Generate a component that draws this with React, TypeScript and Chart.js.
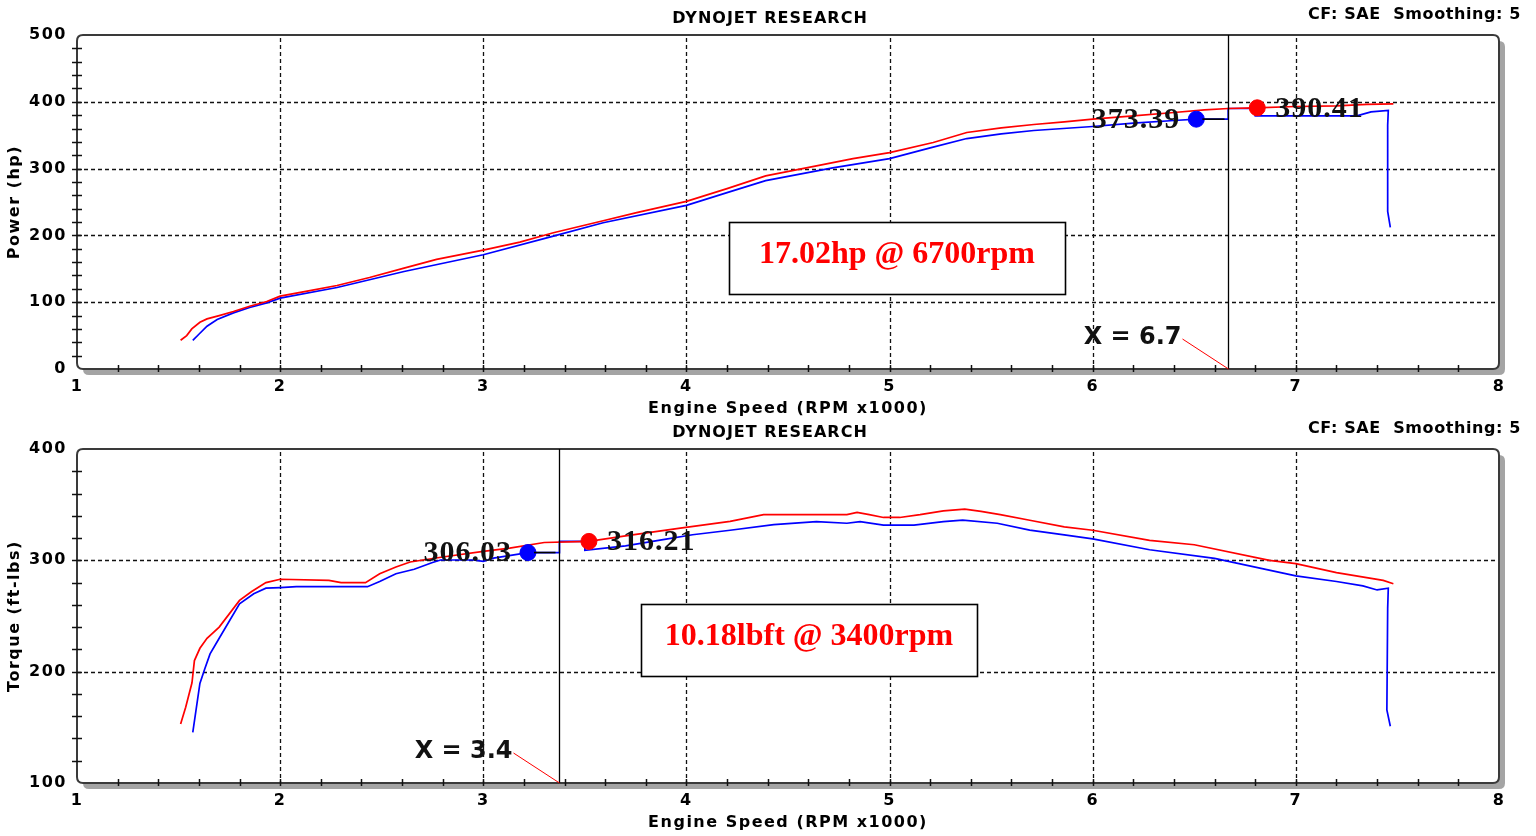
import React, { useEffect, useRef } from "react";
import { Chart, registerables } from "chart.js";

Chart.register(...registerables);

// ---------------- data ----------------
const rpmTicks = [1, 2, 3, 4, 5, 6, 7, 8];
const powerTicks = [0, 100, 200, 300, 400, 500];
const torqueTicks = [100, 200, 300, 400];

const powerRedRpm = [1.51, 1.54, 1.565, 1.605, 1.64, 1.7, 1.77, 1.85, 1.934, 2.0, 2.14, 2.28, 2.44, 2.61, 2.77, 3.0, 3.18, 3.345, 3.59, 3.755, 4.0, 4.2, 4.39, 4.64, 4.82, 5.0, 5.215, 5.38, 5.55, 5.71, 5.86, 6.0, 6.2, 6.4, 6.55, 6.667, 6.8, 7.0, 7.2, 7.35, 7.48];
const powerRedHp = [43, 50, 60, 70, 75, 80, 86, 94, 101, 109, 117, 125, 137, 151, 164, 178, 190, 204, 222, 234, 251, 270, 289, 304, 315, 324, 339, 354, 361, 366, 370, 374, 379, 384, 388, 390, 391, 393, 394, 396, 397];

const powerBlueRpm = [1.57, 1.6, 1.64, 1.69, 1.77, 1.85, 1.934, 2.0, 2.28, 2.61, 3.0, 3.345, 3.59, 4.0, 4.2, 4.39, 4.72, 5.0, 5.2, 5.38, 5.55, 5.71, 6.0, 6.2, 6.4, 6.51, 6.667, 6.667, 6.79, 6.8, 7.3, 7.37, 7.455, 7.452, 7.452, 7.465];
const powerBlueHp = [43, 52, 64, 74, 84, 92, 99, 106, 122, 146, 171, 199, 219, 245, 264, 282, 301, 315, 331, 345, 352, 357, 363, 368, 372, 374, 374, 390, 390, 379, 379, 385, 387, 365, 236, 212];

const torqueRedRpm = [1.51, 1.535, 1.566, 1.578, 1.605, 1.64, 1.7, 1.8, 1.86, 1.93, 2.0, 2.24, 2.3, 2.42, 2.49, 2.57, 2.64, 2.8, 3.0, 3.13, 3.3, 3.52, 3.7, 3.97, 4.215, 4.38, 4.79, 4.84, 4.9, 4.97, 5.05, 5.15, 5.265, 5.37, 5.45, 5.545, 5.69, 5.86, 6.0, 6.28, 6.5, 6.87, 7.0, 7.2, 7.43, 7.48];
const torqueRedLbft = [153, 168, 190, 210, 221, 230, 240, 264, 272, 280, 283, 282, 280, 280, 288, 294, 298.5, 303, 308, 311, 316, 317, 322, 329, 335, 341, 341, 343, 341, 338.5, 338.5, 341, 344.5, 346, 344, 341, 336, 330, 327, 318, 314, 300, 297, 289, 282, 279];

const torqueBlueRpm = [1.57, 1.605, 1.63, 1.655, 1.7, 1.8, 1.87, 1.93, 2.0, 2.08, 2.43, 2.49, 2.57, 2.66, 2.75, 2.79, 2.95, 3.0, 3.05, 3.22, 3.375, 3.375, 3.5, 3.5, 3.7, 3.9, 4.03, 4.215, 4.43, 4.64, 4.79, 4.855, 4.97, 5.12, 5.265, 5.36, 5.53, 5.69, 5.86, 6.0, 6.28, 6.6, 7.0, 7.2, 7.33, 7.4, 7.455, 7.452, 7.448, 7.465];
const torqueBlueLbft = [145.5, 189.5, 203, 216, 230, 261, 270, 275, 275.5, 276.3, 276.3, 281, 288, 292, 298, 300.3, 300.3, 299, 302, 307, 307, 317, 317, 309, 313, 319, 323, 327, 332, 334.7, 333.3, 334.7, 331.7, 331.7, 334.7, 336.2, 333.3, 327.2, 322.8, 319.2, 309.5, 301.7, 286, 281, 277, 273.4, 275, 257, 165.6, 151];

// peak markers: [blue, red]
const powerPeakRpm = [6.51, 6.81];
const powerPeakHp = [374, 391];
const powerPeakLabels = ["373.39", "390.41"];
const torquePeakRpm = [3.22, 3.52];
const torquePeakLbft = [307, 317];
const torquePeakLabels = ["306.03", "316.21"];

const powerCursorRpm = 6.667;
const powerCursorText = "X = 6.7";
const torqueCursorRpm = 3.375;
const torqueCursorText = "X = 3.4";

const powerDiffText = "17.02hp @ 6700rpm";
const torqueDiffText = "10.18lbft @ 3400rpm";

const chartTitle = "DYNOJET RESEARCH";
const chartSubInfo = "CF: SAE  Smoothing: 5";
const xAxisTitle = "Engine Speed (RPM x1000)";

// ---------------- chart ----------------
type Pt = { x: number; y: number };
type Panel = {
  yTicks: number[];
  yMinor: number;
  yTitle: string;
  red: Pt[];
  blue: Pt[];
  peakX: number[];
  peakY: number[];
  peakLabels: string[];
  cursorX: number;
  cursorText: string;
  diffText: string;
  boxRect: [number, number, number, number];
  padTop: number;
  xAxisH: number;
  xTitlePad: number;
  titleY: number;
  cfY: number;
};

const zip = (xs: number[], ys: number[]): Pt[] => xs.map((x, i) => ({ x, y: ys[i] }));

function rr(ctx: CanvasRenderingContext2D, x: number, y: number, w: number, h: number, r: number) {
  ctx.beginPath();
  ctx.moveTo(x + r, y);
  ctx.lineTo(x + w - r, y);
  ctx.quadraticCurveTo(x + w, y, x + w, y + r);
  ctx.lineTo(x + w, y + h - r);
  ctx.quadraticCurveTo(x + w, y + h, x + w - r, y + h);
  ctx.lineTo(x + r, y + h);
  ctx.quadraticCurveTo(x, y + h, x, y + h - r);
  ctx.lineTo(x, y + r);
  ctx.quadraticCurveTo(x, y, x + r, y);
  ctx.closePath();
}

function seg(ctx: CanvasRenderingContext2D, x1: number, y1: number, x2: number, y2: number) {
  ctx.beginPath();
  ctx.moveTo(x1, y1);
  ctx.lineTo(x2, y2);
  ctx.stroke();
}

function makePlugin(p: Panel) {
  return {
    id: "dyno",
    beforeDraw(chart: any) {
      const ctx = chart.ctx as CanvasRenderingContext2D;
      const { left, top, right, bottom } = chart.chartArea;
      const xs = chart.scales.x;
      const ys = chart.scales.y;
      ctx.save();
      ctx.fillStyle = "#fff";
      ctx.fillRect(0, 0, chart.width, chart.height);
      ctx.fillStyle = "#a4a4a4";
      rr(ctx, left + 6, top + 6, right - left, bottom - top, 6);
      ctx.fill();
      ctx.fillStyle = "#fff";
      rr(ctx, left, top, right - left, bottom - top, 6);
      ctx.fill();
      ctx.strokeStyle = "#111";
      ctx.lineWidth = 1.3;
      ctx.setLineDash([4, 3]);
      rpmTicks.slice(1, -1).forEach((v) => {
        const px = Math.round(xs.getPixelForValue(v)) + 0.5;
        seg(ctx, px, top + 3, px, bottom);
      });
      p.yTicks.slice(1, -1).forEach((v) => {
        const py = Math.round(ys.getPixelForValue(v)) + 0.5;
        seg(ctx, left, py, right - 2, py);
      });
      ctx.restore();
      (ctx as any).letterSpacing = "1.5px";
    },
    afterDatasetsDraw(chart: any) {
      const ctx = chart.ctx as CanvasRenderingContext2D;
      const { left, top, right, bottom } = chart.chartArea;
      const xs = chart.scales.x;
      const ys = chart.scales.y;
      ctx.save();
      ctx.setLineDash([]);
      // frame
      ctx.strokeStyle = "#3a3a3a";
      ctx.lineWidth = 2;
      rr(ctx, left, top, right - left, bottom - top, 6);
      ctx.stroke();
      // minor ticks
      ctx.strokeStyle = "#111";
      ctx.lineWidth = 1.5;
      const x0 = rpmTicks[0];
      const x1 = rpmTicks[rpmTicks.length - 1];
      for (let i = 1; i < (x1 - x0) * 5; i++) {
        const px = Math.round(xs.getPixelForValue(x0 + i * 0.2)) + 0.5;
        seg(ctx, px, bottom - 4, px, bottom + 3);
      }
      const y0 = p.yTicks[0];
      const y1 = p.yTicks[p.yTicks.length - 1];
      for (let v = y0 + p.yMinor; v < y1 - 0.01; v += p.yMinor) {
        const py = Math.round(ys.getPixelForValue(v)) + 0.5;
        seg(ctx, left - 5, py, left + 5, py);
      }
      // cursor
      const cx = Math.round(xs.getPixelForValue(p.cursorX)) + 0.5;
      ctx.strokeStyle = "#000";
      ctx.lineWidth = 1.3;
      seg(ctx, cx, top, cx, bottom);
      // connector from blue peak to cursor
      const bx = xs.getPixelForValue(p.peakX[0]);
      const by = ys.getPixelForValue(p.peakY[0]);
      const rx = xs.getPixelForValue(p.peakX[1]);
      const ry = ys.getPixelForValue(p.peakY[1]);
      ctx.lineWidth = 1.6;
      seg(ctx, bx + 6, by, cx - 4, by);
      // peak labels
      (ctx as any).letterSpacing = "1px";
      ctx.font = 'bold 30px "Liberation Serif"';
      ctx.textBaseline = "middle";
      ctx.fillStyle = "#111";
      ctx.textAlign = "right";
      ctx.fillText(p.peakLabels[0], bx - 16, by + 1);
      ctx.textAlign = "left";
      ctx.fillText(p.peakLabels[1], rx + 18, ry + 1);
      // cursor value
      (ctx as any).letterSpacing = "0px";
      ctx.font = 'bold 24px "DejaVu Sans"';
      ctx.textAlign = "right";
      ctx.fillText(p.cursorText, cx - 47, bottom - 31);
      ctx.strokeStyle = "#ff0000";
      ctx.lineWidth = 1;
      seg(ctx, cx - 46, bottom - 30, cx, bottom);
      // difference box
      const [bx0, by0, bw, bh] = p.boxRect;
      ctx.fillStyle = "#fff";
      ctx.fillRect(bx0, by0, bw, bh);
      ctx.strokeStyle = "#000";
      ctx.lineWidth = 1.6;
      ctx.strokeRect(bx0 + 0.5, by0 + 0.5, bw, bh);
      ctx.font = 'bold 32px "Liberation Serif"';
      ctx.fillStyle = "#ff0000";
      ctx.textAlign = "center";
      ctx.fillText(p.diffText, bx0 + bw / 2, by0 + bh / 2 - 3);
      // titles
      (ctx as any).letterSpacing = "1px";
      ctx.font = 'bold 16px "DejaVu Sans"';
      ctx.fillStyle = "#000";
      ctx.textAlign = "center";
      ctx.fillText(chartTitle, 770, p.titleY);
      (ctx as any).letterSpacing = "0.6px";
      ctx.textAlign = "right";
      ctx.fillText(chartSubInfo, 1521, p.cfY);
      ctx.restore();
    },
  };
}

function buildChart(canvas: HTMLCanvasElement, p: Panel) {
  const tickFont = { family: "DejaVu Sans", weight: "bold" as const, size: 16 };
  return new Chart(canvas, {
    type: "line",
    data: {
      datasets: [
        {
          type: "scatter",
          data: [{ x: p.peakX[1], y: p.peakY[1] }],
          pointRadius: 8,
          pointBackgroundColor: "#ff0000",
          pointBorderColor: "#ff0000",
          showLine: false,
        } as any,
        {
          type: "scatter",
          data: [{ x: p.peakX[0], y: p.peakY[0] }],
          pointRadius: 8,
          pointBackgroundColor: "#0000ff",
          pointBorderColor: "#0000ff",
          showLine: false,
        } as any,
        {
          data: p.red,
          borderColor: "#ff0000",
          borderWidth: 1.7,
          pointRadius: 0,
          tension: 0,
          fill: false,
        },
        {
          data: p.blue,
          borderColor: "#0000ff",
          borderWidth: 1.7,
          pointRadius: 0,
          tension: 0,
          fill: false,
        },
      ],
    },
    options: {
      animation: false,
      responsive: false,
      devicePixelRatio: 1,
      parsing: false,
      layout: { padding: { left: 0, right: 37, top: p.padTop, bottom: 0 } },
      plugins: { legend: { display: false }, tooltip: { enabled: false }, title: { display: false } },
      scales: {
        x: {
          type: "linear",
          min: rpmTicks[0],
          max: rpmTicks[rpmTicks.length - 1],
          grid: { display: false, drawTicks: false },
          border: { display: false },
          ticks: { stepSize: 1, autoSkip: false, padding: 8, color: "#000", font: tickFont },
          title: {
            display: true,
            text: xAxisTitle,
            color: "#000",
            font: tickFont,
            padding: { top: 0, bottom: p.xTitlePad },
          },
          afterFit: (s: any) => {
            s.height = p.xAxisH;
          },
        },
        y: {
          type: "linear",
          min: p.yTicks[0],
          max: p.yTicks[p.yTicks.length - 1],
          grid: { display: false, drawTicks: false },
          border: { display: false },
          ticks: { stepSize: 100, padding: 10, color: "#000", font: tickFont },
          title: {
            display: true,
            text: p.yTitle,
            color: "#000",
            font: tickFont,
            padding: { top: 5, bottom: 0 },
          },
          afterFit: (s: any) => {
            s.width = 77;
          },
        },
      },
    } as any,
    plugins: [makePlugin(p)],
  });
}

const powerPanel: Panel = {
  yTicks: powerTicks,
  yMinor: 20,
  yTitle: "Power (hp)",
  red: zip(powerRedRpm, powerRedHp),
  blue: zip(powerBlueRpm, powerBlueHp),
  peakX: powerPeakRpm,
  peakY: powerPeakHp,
  peakLabels: powerPeakLabels,
  cursorX: powerCursorRpm,
  cursorText: powerCursorText,
  diffText: powerDiffText,
  boxRect: [729, 222, 336, 72],
  padTop: 35,
  xAxisH: 49,
  xTitlePad: 0,
  titleY: 19,
  cfY: 15,
};

const torquePanel: Panel = {
  yTicks: torqueTicks,
  yMinor: 20,
  yTitle: "Torque (ft-lbs)",
  red: zip(torqueRedRpm, torqueRedLbft),
  blue: zip(torqueBlueRpm, torqueBlueLbft),
  peakX: torquePeakRpm,
  peakY: torquePeakLbft,
  peakLabels: torquePeakLabels,
  cursorX: torqueCursorRpm,
  cursorText: torqueCursorText,
  diffText: torqueDiffText,
  boxRect: [641, 186, 336, 72],
  padTop: 31,
  xAxisH: 53,
  xTitlePad: 4,
  titleY: 15,
  cfY: 11,
};

function DynoChart({ panel, top }: { panel: Panel; top: number }) {
  const ref = useRef<HTMLCanvasElement | null>(null);
  useEffect(() => {
    if (!ref.current) return;
    const c = buildChart(ref.current, panel);
    return () => c.destroy();
  }, [panel]);
  return (
    <canvas
      ref={ref}
      width={1536}
      height={418}
      style={{ position: "absolute", left: 0, top, width: 1536, height: 418 }}
    />
  );
}

export default function App() {
  return (
    <div
      style={{
        position: "fixed",
        left: 0,
        top: 0,
        width: 1536,
        height: 836,
        background: "#fff",
        overflow: "hidden",
      }}
    >
      <DynoChart panel={powerPanel} top={0} />
      <DynoChart panel={torquePanel} top={418} />
    </div>
  );
}
